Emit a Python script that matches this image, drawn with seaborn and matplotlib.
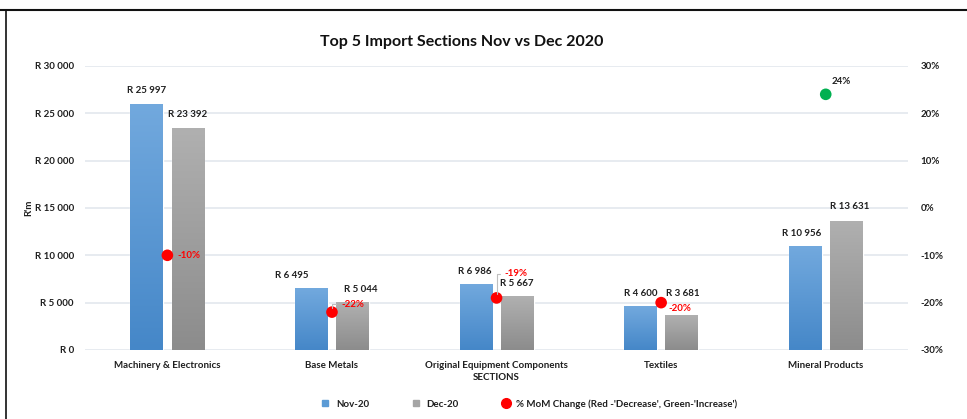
import numpy as np
import pandas as pd
import matplotlib
matplotlib.use("Agg")
import matplotlib.pyplot as plt
from matplotlib.colors import LinearSegmentedColormap
from matplotlib.lines import Line2D
import seaborn as sns

# Chart data (R million)
sections = ["Machinery & Electronics", "Base Metals", "Original Equipment Components",
            "Textiles", "Mineral Products"]
nov_20 = [25997, 6495, 6986, 4600, 10956]
dec_20 = [23392, 5044, 5667, 3681, 13631]
mom_change = [-10, -22, -19, -20, 24]

left_ticks = [0, 5000, 10000, 15000, 20000, 25000, 30000]
right_ticks = [-30, -20, -10, 0, 10, 20, 30]

# label nudges in pixels (style only)
nov_label_off = [(0, 13), (-20, 13), (-1, 12), (0, 13), (-4, 13)]
dec_label_off = [(0, 14), (8, 13), (0, 13), (1, 22), (3, 14)]
pct_label_off = [(10, 0), (9, 8), (8, 24), (7, -6), (6, 13)]
pct_leader = [False, True, True, False, False]

df = pd.DataFrame({
    "section": sections * 2,
    "value": nov_20 + dec_20,
    "month": ["Nov-20"] * len(sections) + ["Dec-20"] * len(sections),
})

sns.set_style("white")
plt.rcParams['font.family'] = ['Lato', 'DejaVu Sans']

blue = "#5B9BD5"
grey = "#A5A5A5"
red = "#FF0000"
green = "#00B050"
txt = "#1F1F1F"
grid_c = "#E3E7ED"
fs = 7
fw = "bold"

fig = plt.figure(figsize=(9.67, 4.19), dpi=100)
ax = fig.add_axes([0.088, 0.1647, 0.851, 0.678])

sns.barplot(data=df, x="section", y="value", hue="month", order=sections,
            hue_order=["Nov-20", "Dec-20"], palette=[blue, grey],
            width=0.5, gap=0.2, legend=False, ax=ax, zorder=3)

# vertical gradient fill on the bars, like the Excel original
grad = np.linspace(0, 1, 256).reshape(-1, 1)
cmaps = [LinearSegmentedColormap.from_list("b", ["#72A9DE", "#4587C8"]),
         LinearSegmentedColormap.from_list("g", ["#B0B0B0", "#8C8C8C"])]
for cont, cm in zip(ax.containers, cmaps):
    for p in cont:
        x0, y0, w, h = p.get_x(), p.get_y(), p.get_width(), p.get_height()
        im = ax.imshow(grad, extent=[x0, x0 + w, y0, y0 + h], aspect="auto",
                       cmap=cm, zorder=3.5)
        im.set_clip_path(p)

ax.set_xlim(-0.5, len(sections) - 0.5)
ax.set_ylim(0, 30000)
ax.set_yticks(left_ticks)
ax.set_yticklabels(["R " + f"{t:,}".replace(",", " ") for t in left_ticks])
ax.yaxis.grid(True, color=grid_c, lw=1.2, zorder=0)
ax.set_axisbelow(True)
for s in ax.spines.values():
    s.set_visible(False)
ax.tick_params(axis="both", length=0, labelsize=fs, colors=txt, pad=8)
for lbl in ax.get_xticklabels() + ax.get_yticklabels():
    lbl.set_fontweight(fw)
ax.set_xlabel("SECTIONS", fontsize=fs, color=txt, labelpad=2, fontweight=fw)
ax.set_ylabel("R'm", fontsize=fs, color=txt, labelpad=1, fontweight=fw)

# bar value labels
for cont, vals, offs in zip(ax.containers, [nov_20, dec_20], [nov_label_off, dec_label_off]):
    for p, v, off in zip(cont, vals, offs):
        ax.annotate("R " + f"{v:,}".replace(",", " "),
                    xy=(p.get_x() + p.get_width() / 2, p.get_height()),
                    xytext=off, textcoords="offset pixels",
                    ha="center", va="center", fontsize=fs, fontweight=fw,
                    color=txt, zorder=5)

# % MoM change on secondary axis
ax2 = ax.twinx()
pos = np.arange(len(sections))
kind = ["Decrease" if c < 0 else "Increase" for c in mom_change]
sns.scatterplot(x=pos, y=mom_change, hue=kind,
                palette={"Decrease": red, "Increase": green},
                s=70, edgecolor="none", legend=False, ax=ax2, zorder=6)
ax2.set_ylim(-30, 30)
ax2.set_yticks(right_ticks)
ax2.set_yticklabels([f"{t}%" for t in right_ticks], fontweight=fw)
ax2.tick_params(axis="y", length=0, labelsize=fs, colors=txt, pad=9)
for s in ax2.spines.values():
    s.set_visible(False)
ax2.set_xlim(-0.5, len(sections) - 0.5)

for x, c, off, lead in zip(pos, mom_change, pct_label_off, pct_leader):
    props = None
    if lead:
        props = dict(arrowstyle="-", color="#BFBFBF", lw=0.8, relpos=(0, 0.5),
                     connectionstyle="angle,angleA=0,angleB=90,rad=0",
                     shrinkA=1, shrinkB=3)
    ax2.annotate(f"{c}%", xy=(x, c), xytext=off, textcoords="offset pixels",
                 ha="left", va="center", fontsize=fs, fontweight=fw,
                 color=red if c < 0 else txt, arrowprops=props, zorder=7)

fig.text(0.477, 0.9, "Top 5 Import Sections Nov vs Dec 2020", ha="center",
         va="center", fontsize=11.5, fontweight="bold", color="#111111")

handles = [Line2D([], [], marker="s", ls="none", color=blue, markersize=5),
           Line2D([], [], marker="s", ls="none", color=grey, markersize=5),
           Line2D([], [], marker="o", ls="none", color=red, markersize=7)]
leg = fig.legend(handles, ["Nov-20", "Dec-20", "% MoM Change (Red -'Decrease', Green-'Increase')"],
                 loc="center", bbox_to_anchor=(0.5445, 0.036), ncol=3, frameon=False,
                 fontsize=fs, handletextpad=0.1, columnspacing=3.8, labelcolor=txt)
for t in leg.get_texts():
    t.set_fontweight(fw)

# outer frame of the screenshot
fig.add_artist(Line2D([0, 1], [0.976, 0.976], color="#111111", lw=1.5))
fig.add_artist(Line2D([0.0062, 0.0062], [0, 0.976], color="#111111", lw=1.2))

fig.savefig("out.png", dpi=100)
